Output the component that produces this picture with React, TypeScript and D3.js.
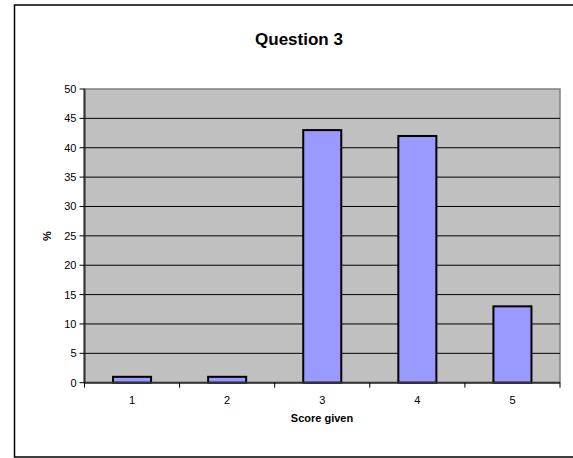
import React from "react";
import * as d3 from "d3";

const categories = ["1", "2", "3", "4", "5"];
const values = [1, 1, 43, 42, 13];
const yTicks = [0, 5, 10, 15, 20, 25, 30, 35, 40, 45, 50];
const title = "Question 3";
const xTitle = "Score given";
const yTitle = "%";

export default function App() {
  const W = 573, H = 458;
  const left = 84.5, right = 560, top = 89, bottom = 382.7;
  const x = d3.scaleBand().domain(categories).range([left, right]).paddingInner(0).paddingOuter(0);
  const y = d3.scaleLinear().domain([0, 50]).range([bottom, top]);
  const bw = x.bandwidth() / 2.5;
  const font = "'Liberation Sans', Arial, sans-serif";
  return (
    <svg width={W} height={H} style={{ position: "absolute", left: 0, top: 0, display: "block" }} fontFamily={font}>
      <rect x={0} y={0} width={W} height={H} fill="#fff" />
      <path d={`M${W + 20},5 H14.5 V457 H${W + 20}`} fill="none" stroke="#000" strokeWidth={1.5} />
      <text x={299} y={45} textAnchor="middle" fontSize={17} fontWeight="bold">{title}</text>
      <rect x={left} y={top} width={right - left} height={bottom - top} fill="#c0c0c0" stroke="#808080" strokeWidth={1.5} />
      {yTicks.slice(1, -1).map((t) => (
        <line key={t} x1={left} x2={right} y1={y(t)} y2={y(t)} stroke="#000" strokeWidth={1} />
      ))}
      {values.map((v, i) => {
        const cx = x(categories[i])! + x.bandwidth() / 2;
        return (
          <rect key={i} x={cx - bw / 2} y={y(v)} width={bw} height={bottom - y(v)} fill="#9999ff" stroke="#000" strokeWidth={2} />
        );
      })}
      <line x1={left} x2={left} y1={top} y2={bottom} stroke="#333" strokeWidth={2} />
      <line x1={left} x2={right} y1={bottom} y2={bottom} stroke="#333" strokeWidth={2} />
      {yTicks.map((t) => (
        <g key={t}>
          <line x1={left - 5} x2={left} y1={y(t)} y2={y(t)} stroke="#000" strokeWidth={1} />
          <text x={left - 8} y={y(t) + 4} textAnchor="end" fontSize={11}>{t}</text>
        </g>
      ))}
      {categories.map((c, i) => (
        <g key={c}>
          <line x1={x(c)! + x.bandwidth()} x2={x(c)! + x.bandwidth()} y1={bottom} y2={bottom + 5} stroke="#000" strokeWidth={1} />
          {i === 0 && <line x1={left} x2={left} y1={bottom} y2={bottom + 5} stroke="#000" strokeWidth={1} />}
          <text x={x(c)! + x.bandwidth() / 2} y={404} textAnchor="middle" fontSize={11}>{c}</text>
        </g>
      ))}
      <text x={322} y={422} textAnchor="middle" fontSize={11} fontWeight="bold">{xTitle}</text>
      <text transform={`translate(51,236) rotate(-90)`} textAnchor="middle" fontSize={11} fontWeight="bold">{yTitle}</text>
    </svg>
  );
}
